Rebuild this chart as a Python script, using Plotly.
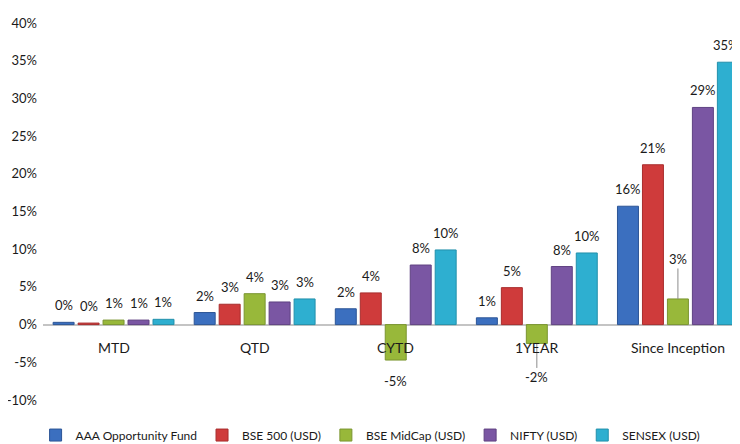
import plotly.graph_objects as go

categories = ["MTD", "QTD", "CYTD", "1YEAR", "Since Inception"]
series_names = ["AAA Opportunity Fund", "BSE 500 (USD)", "BSE MidCap (USD)", "NIFTY (USD)", "SENSEX (USD)"]
aaa = [0.3, 1.6, 2.1, 0.9, 15.7]
bse500 = [0.2, 2.7, 4.2, 4.9, 21.2]
midcap = [0.6, 4.1, -4.7, -2.5, 3.4]
nifty = [0.6, 3.0, 7.9, 7.7, 28.8]
sensex = [0.7, 3.4, 9.9, 9.5, 34.8]
labels_aaa = ["0%", "2%", "2%", "1%", "16%"]
labels_bse500 = ["0%", "3%", "4%", "5%", "21%"]
labels_midcap = ["1%", "4%", "-5%", "-2%", "3%"]
labels_nifty = ["1%", "3%", "8%", "8%", "29%"]
labels_sensex = ["1%", "3%", "10%", "10%", "35%"]
y_ticks = [-10, -5, 0, 5, 10, 15, 20, 25, 30, 35, 40]
y_tick_text = ["-10%", "-5%", "0%", "5%", "10%", "15%", "20%", "25%", "30%", "35%", "40%"]

values = [aaa, bse500, midcap, nifty, sensex]
labels = [labels_aaa, labels_bse500, labels_midcap, labels_nifty, labels_sensex]
colors = ["#3b6fbf", "#cf3b3b", "#98b83a", "#7a56a3", "#2eafd0"]
edge = ["#2c5596", "#a82d2d", "#7a9530", "#5f4282", "#2290ab"]

FONT = "Lato, Roboto, sans-serif"
TXT = "#1a1a1a"
BARGAP = 0.115
GROUPGAP = 0.16

fig = go.Figure()
for name, vals, c, e in zip(series_names, values, colors, edge):
    fig.add_trace(go.Bar(
        x=categories, y=vals, name=name,
        marker=dict(color=c, line=dict(color=e, width=1)),
    ))

# data labels
slot = (1 - BARGAP) / len(series_names)
leaders = {(4, 2): -40, (3, 2): 34}
for si, (vals, labs) in enumerate(zip(values, labels)):
    for ci, (v, lab) in enumerate(zip(vals, labs)):
        xpos = ci + (si - (len(series_names) - 1) / 2) * slot
        if (ci, si) in leaders:
            fig.add_annotation(
                x=xpos, y=v, xref="x", yref="y", text=lab,
                showarrow=True, arrowhead=0, arrowwidth=1, arrowcolor="#8c8c8c",
                ax=0, ay=leaders[(ci, si)], standoff=0,
                font=dict(family=FONT, size=13, color=TXT))
        else:
            fig.add_annotation(
                x=xpos, y=v, xref="x", yref="y", text=lab, showarrow=False,
                yshift=17 if v >= 0 else -21,
                xshift=-2 if (ci == len(categories) - 1 and si == len(series_names) - 1) else 0,
                font=dict(family=FONT, size=13, color=TXT))

# category labels at zero line
for ci, cat in enumerate(categories):
    fig.add_annotation(x=ci, y=0, xref="x", yref="y", text=cat, showarrow=False,
                       yshift=-23, font=dict(family=FONT, size=14, color=TXT))

# the page body has an 8px margin, so the figure is sized to fill the 740x444 window
fig.update_layout(
    width=732, height=436, autosize=False,
    margin=dict(l=35, r=0, t=15, b=44, autoexpand=False),
    paper_bgcolor="white", plot_bgcolor="white",
    barmode="group", bargap=BARGAP, bargroupgap=GROUPGAP,
    font=dict(family=FONT, size=13, color=TXT),
    showlegend=True,
    legend=dict(orientation="h", x=0.47, xanchor="center", y=-0.093, yanchor="middle",
                font=dict(family=FONT, size=12, color=TXT), itemwidth=30,
                traceorder="normal"),
    xaxis=dict(type="category", range=[-0.5, 4.44], showticklabels=False,
               showgrid=False, showline=False, ticks="", automargin=False),
    yaxis=dict(range=[-10, 40], tickvals=y_ticks, ticktext=y_tick_text,
               showgrid=False, showline=False, zeroline=True, automargin=False,
               zerolinecolor="#c4c4c4", zerolinewidth=2, ticks="",
               ticklabelstandoff=5,
               tickfont=dict(family=FONT, size=13, color=TXT)),
)

fig.write_html("out.html")
